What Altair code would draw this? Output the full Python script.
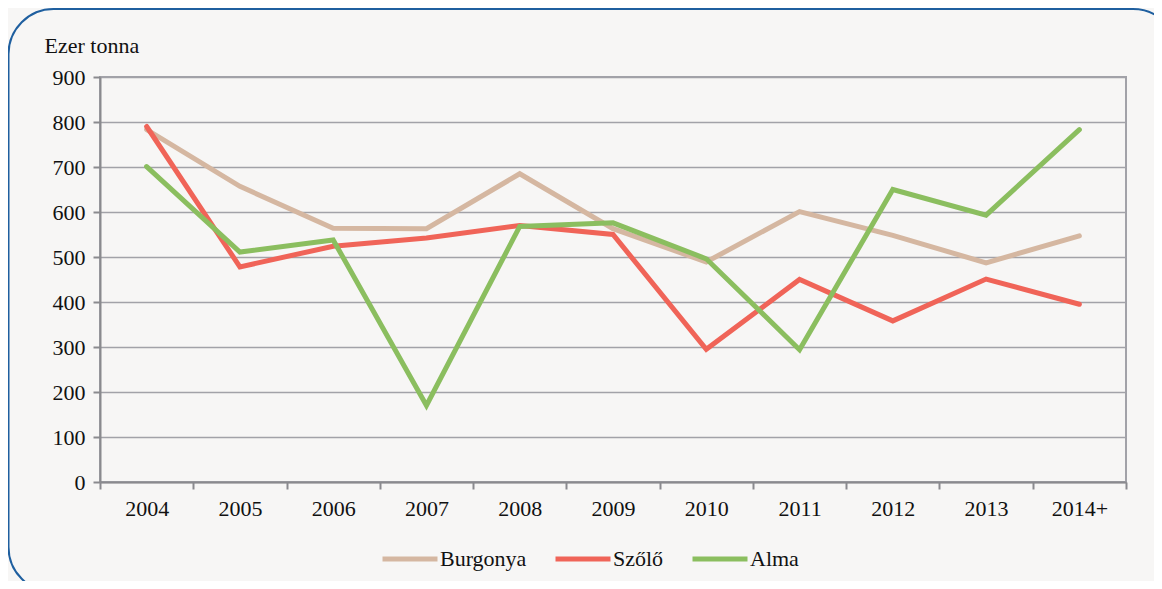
import altair as alt
import pandas as pd

years = ["2004", "2005", "2006", "2007", "2008", "2009", "2010", "2011", "2012", "2013", "2014+"]
series = ["Burgonya", "Szőlő", "Alma"]
burgonya = [783, 657, 564, 563, 685, 563, 489, 601, 548, 487, 547]
szolo = [790, 478, 524, 542, 570, 550, 295, 450, 358, 451, 395]
alma = [701, 511, 538, 170, 568, 576, 496, 294, 650, 593, 783]
colors = ["#d5b7a1", "#f06458", "#8bbe5f"]
y_ticks = [0, 100, 200, 300, 400, 500, 600, 700, 800, 900]

rows = []
for name, vals in zip(series, [burgonya, szolo, alma]):
    for yr, v in zip(years, vals):
        rows.append({"year": yr, "series": name, "value": v})
df = pd.DataFrame(rows)

FONT = "Liberation Serif"

x_enc = alt.X(
    "year:N",
    sort=years,
    bandPosition=0.5,
    scale=alt.Scale(type="band", paddingInner=0, paddingOuter=0),
    axis=alt.Axis(
        title=None, labelAngle=0, tickBand="extent", tickSize=7, tickColor="#8a8a8e",
        tickWidth=2, domainColor="#8a8a8e", domainWidth=2, labelFontSize=22,
        labelFont=FONT, labelColor="#111", labelPadding=9, grid=False,
    ),
)
y_enc = alt.Y(
    "value:Q",
    scale=alt.Scale(domain=[0, 900], nice=False),
    axis=alt.Axis(
        values=y_ticks, title="Ezer tonna", titleAngle=0, titleAlign="left",
        titleBaseline="alphabetic", titleX=-56, titleY=-25, titleFont=FONT,
        titleFontSize=22, titleFontWeight="normal", titleColor="#111",
        labelFont=FONT, labelFontSize=22, labelColor="#111", labelPadding=8,
        tickSize=7, tickColor="#8a8a8e", tickWidth=2, domainColor="#8a8a8e",
        domainWidth=2, grid=True, gridColor="#a2a2a8", gridWidth=1.6,
    ),
)
color_enc = alt.Color(
    "series:N",
    scale=alt.Scale(domain=series, range=colors),
    legend=alt.Legend(
        title=None, orient="none", direction="horizontal", legendX=280, legendY=452,
        symbolType="stroke", symbolSize=3025, symbolStrokeWidth=5, labelFont=FONT,
        labelFontSize=22, labelColor="#111", labelOffset=0, columnPadding=18,
        padding=0,
    ),
)

layers = []
for name in series:
    layers.append(
        alt.Chart(df)
        .transform_filter(alt.datum.series == name)
        .mark_line(strokeWidth=5, strokeCap="round")
        .encode(x=x_enc, y=y_enc, color=color_enc)
    )

frame = (
    alt.Chart(pd.DataFrame({"a": [0]}))
    .mark_rect(cornerRadius=45, fillOpacity=0, stroke="#1f5f9f", strokeWidth=2)
    .encode(x=alt.value(-91.5), x2=alt.value(1078), y=alt.value(-68), y2=alt.value(515))
)

chart = (
    alt.layer(*layers, frame)
    .properties(
        width=1026, height=405, background="#f7f6f5",
        padding={"left": 92, "top": 69, "right": 28, "bottom": 99},
        autosize=alt.AutoSizeParams(type="none"),
    )
    .configure_view(stroke="#a2a2a8", strokeWidth=2)
    .configure_axis(labelFont=FONT, titleFont=FONT)
    .configure_legend(labelFont=FONT)
)

chart.save("out.html", embed_options={"renderer": "svg", "actions": False})
